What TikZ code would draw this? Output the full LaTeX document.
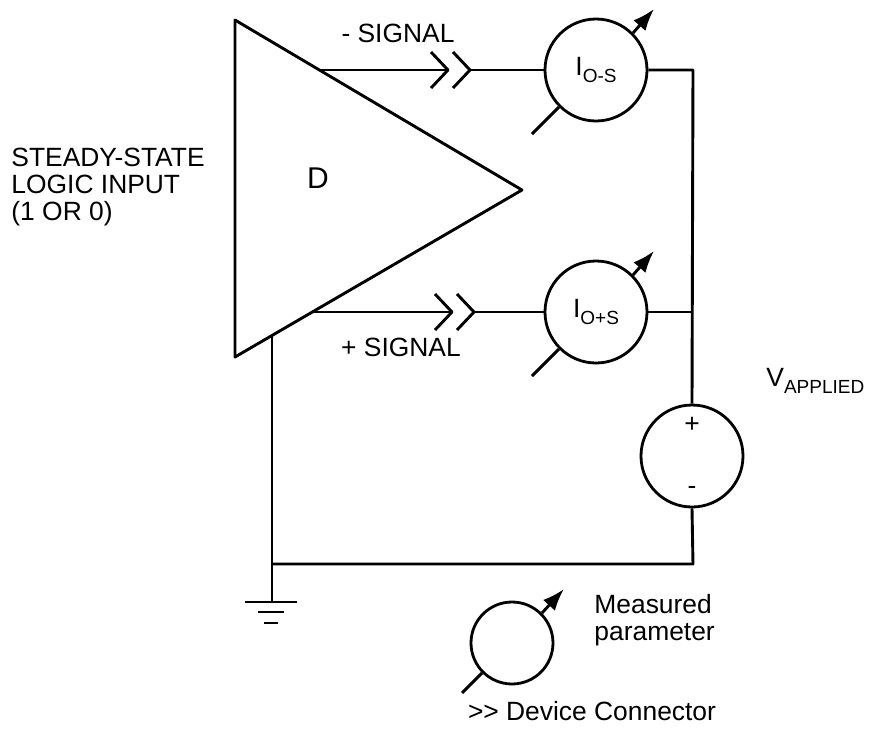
\documentclass[tikz,border=0pt]{standalone}
\usepackage{fontspec}
\setmainfont{Liberation Sans}
\usetikzlibrary{arrows.meta}
\newcommand{\lowtext}[1]{\raisebox{-0.55ex}{\fontsize{9.5}{11}\selectfont #1}}
\newcommand{\meterlab}[1]{\raisebox{-3pt}{I\lowtext{#1}}}
\tikzset{
  meter/.style={circle, draw, line width=1.4pt, minimum size=51pt, inner sep=0pt},
  smallmeter/.style={meter, minimum size=41pt},
  needle/.style={-{Latex[length=11pt,width=8pt]}},
  plain/.style={inner sep=0pt},
  plug/.pic={
    \coordinate (-in) at (0,0);
    \coordinate (-out) at (22,0);
    \draw (-17,-18) -- (0,0) -- (-17,18);
    \draw (5,-18) -- (22,0) -- (5,18);
  }
}
\begin{document}
\begin{tikzpicture}[x=0.5pt,y=-0.5pt,line width=1.45pt,line join=round,
    font=\fontsize{13.2}{13.5}\selectfont]
  \useasboundingbox (0,0) rectangle (869,730);
  % driver
  \coordinate (ampT) at (235,20);
  \coordinate (ampB) at (235,357);
  \coordinate (ampO) at (522,190);
  \draw (ampT) -- (ampO) -- (ampB) -- cycle;
  \node[font=\fontsize{15}{16}\selectfont] (dlab) at (318,178) {D};
  \coordinate (ampM) at (319,70);
  \coordinate (ampP) at (312,312);
  \coordinate (ampG) at (272,335.5);
  \node[plain, anchor=west, align=left] (logic) at (10,187) {STEADY-STATE\\LOGIC INPUT\\(1 OR 0)};
  % meters
  \node[meter] (mS) at (596,70) {\meterlab{O-S}};
  \node[meter] (mP) at (596,312) {\meterlab{O+S}};
  \node[meter] (vsrc) at (692,456) {};
  \node (vplus) at (692,425) {+};
  \node (vminus) at (692,490) {-};
  \node[plain, anchor=west] (vlab) at (765,381) {V\lowtext{APPLIED}};
  \draw[needle] (mS.45) -- ++(21,-24);
  \draw (mS.225) -- ++(-27,27);
  \draw[needle] (mP.45) -- ++(21,-24);
  \draw (mP.225) -- ++(-27,27);
  % connectors
  \pic (plugS) at (448,70) {plug};
  \pic (plugP) at (452,312) {plug};
  \node (sigm) at (398,33) {- SIGNAL};
  \node (sigp) at (401,347) {+ SIGNAL};
  % wiring
  \coordinate (rTop) at (693,70);
  \coordinate (rMid) at (693,312);
  \coordinate (bR) at (693,564);
  \coordinate (bL) at (272,564);
  \draw (ampM) -- (plugS-in);
  \draw (plugS-out) -- (mS.west);
  \draw (ampP) -- (plugP-in);
  \draw (plugP-out) -- (mP.west);
  \draw (mS.east) -- (rTop) -- (vsrc.north);
  \draw (mP.east) -- (rMid);
  \draw (vsrc.south) -- (bR) -- (bL);
  % ground
  \coordinate (gnd) at (272,602);
  \draw (ampG) -- (gnd);
  \draw (245,602) -- (297,602);
  \draw (258,612) -- (284,612);
  \draw (264,623) -- (278,623);
  % legend
  \node[smallmeter] (mLeg) at (512,643) {};
  \draw[needle] (mLeg.45) -- ++(22,-24);
  \draw (mLeg.225) -- ++(-20,20);
  \node[plain, anchor=west, align=left] (legtxt) at (593,620) {Measured\\parameter};
  \node (devcon) at (592,711) {>{}> Device Connector};
\end{tikzpicture}
\end{document}
